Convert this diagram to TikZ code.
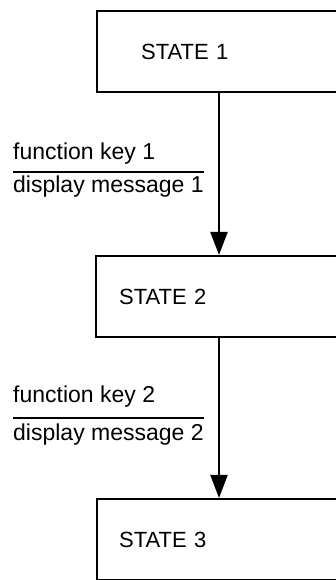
\documentclass[tikz,border=0pt]{standalone}
\usepackage{fontspec}
\setmainfont{Liberation Sans}
\usepackage{tikz}
\usetikzlibrary{arrows.meta}

\tikzset{
    statebox/.style={draw, line width=2.4pt, rectangle, anchor=north west,
        minimum height=81pt, align=left, font=\fontsize{22}{26}\selectfont},
    flow/.style={line width=2pt, -{Triangle[length=23pt,width=17pt]}},
    lbl/.style={anchor=base west, inner sep=0pt, font=\fontsize{23}{27}\selectfont},
    rule/.style={line width=1.6pt}
}

\begin{document}
\begin{tikzpicture}[x=1pt,y=1pt]
    \useasboundingbox (0,0) rectangle (336,580);
    % states
    \node[statebox, inner xsep=44pt, text width=162pt] (s1) at (96,570) {STATE 1};
    \node[statebox, inner xsep=23pt, text width=206pt] (s2) at (95,325) {STATE 2};
    \node[statebox, inner xsep=22pt, text width=206pt] (s3) at (96,82) {STATE 3};
    \coordinate (ax) at (219,0);
    \draw[flow] (s1.south -| ax) -- (s2.north -| ax);
    \draw[flow] (s2.south -| ax) -- (s3.north -| ax);
    % transition labels
    \node[lbl] (fk1) at (13,420) {function key 1};
    \node[lbl] (dm1) at (13,387) {display message 1};
    \draw[rule] ([yshift=4pt]dm1.north west) -- ([yshift=4pt]dm1.north east);
    \node[lbl] (fk2) at (13,177) {function key 2};
    \node[lbl] (dm2) at (13,139) {display message 2};
    \draw[rule] ([yshift=6pt]dm2.north west) -- ([yshift=6pt]dm2.north east);
\end{tikzpicture}
\end{document}
